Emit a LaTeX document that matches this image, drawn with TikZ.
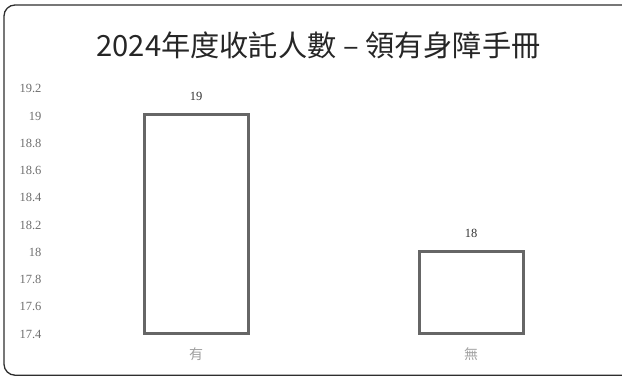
\documentclass[tikz,border=0pt]{standalone}
\usepackage{fontspec}
\setmainfont{Liberation Serif}
\newfontfamily\cjk{Noto Sans CJK TC}
\usepackage{xcolor}
\definecolor{marco}{HTML}{2E2E2E}
\definecolor{borde}{HTML}{666666}
\definecolor{eje}{HTML}{6E6E6E}
\definecolor{etiqueta}{HTML}{A0A0A0}
\tikzstyle{titulo} = [text=black!85, font=\cjk\fontsize{29.2}{31}\selectfont]
\tikzstyle{columna} = [draw=borde, line width=3pt, fill=white,
  minimum width=104pt, inner sep=0pt, anchor=south]
\tikzstyle{valor} = [text=black!80, font=\fontsize{12.5}{13}\selectfont]
\tikzstyle{tick} = [anchor=east, text=eje, font=\fontsize{12.5}{13}\selectfont]
\tikzstyle{categoria} = [text=etiqueta, font=\cjk\fontsize{14}{15}\selectfont]
\newcommand{\columna}[5]{%
  \path (#2,41) node (b#1) [columna, minimum height=#3pt] {};
  \path (b#1.north)+(0,17) node (v#1) [valor] {#4};
  \path (b#1.south)+(0,-19) node (c#1) [categoria] {#5};}

\begin{document}
\begin{tikzpicture}[x=1pt,y=1pt]
\useasboundingbox (0,0) rectangle (622,376);

  % Frame and title
\path[draw=marco, line width=1.3pt, rounded corners=11pt] (4,0.8) rectangle (634,371);
\path (318.5,331) node (titulo) [titulo] {2024年度收託人數 – 領有身障手冊};

  % Axis labels
\path (45,42.0) node (t1) [tick] {17.4};
\path (45,69.25) node (t2) [tick] {17.6};
\path (45,96.5) node (t3) [tick] {17.8};
\path (45,123.75) node (t4) [tick] {18};
\path (45,151.0) node (t5) [tick] {18.2};
\path (45,178.25) node (t6) [tick] {18.4};
\path (45,205.5) node (t7) [tick] {18.6};
\path (45,232.75) node (t8) [tick] {18.8};
\path (45,260.0) node (t9) [tick] {19};
\path (45,287.25) node (t10) [tick] {19.2};

  % Draw bars
\columna{1}{196}{219}{19}{有}
\columna{2}{471}{82}{18}{無}
\end{tikzpicture}
\end{document}
